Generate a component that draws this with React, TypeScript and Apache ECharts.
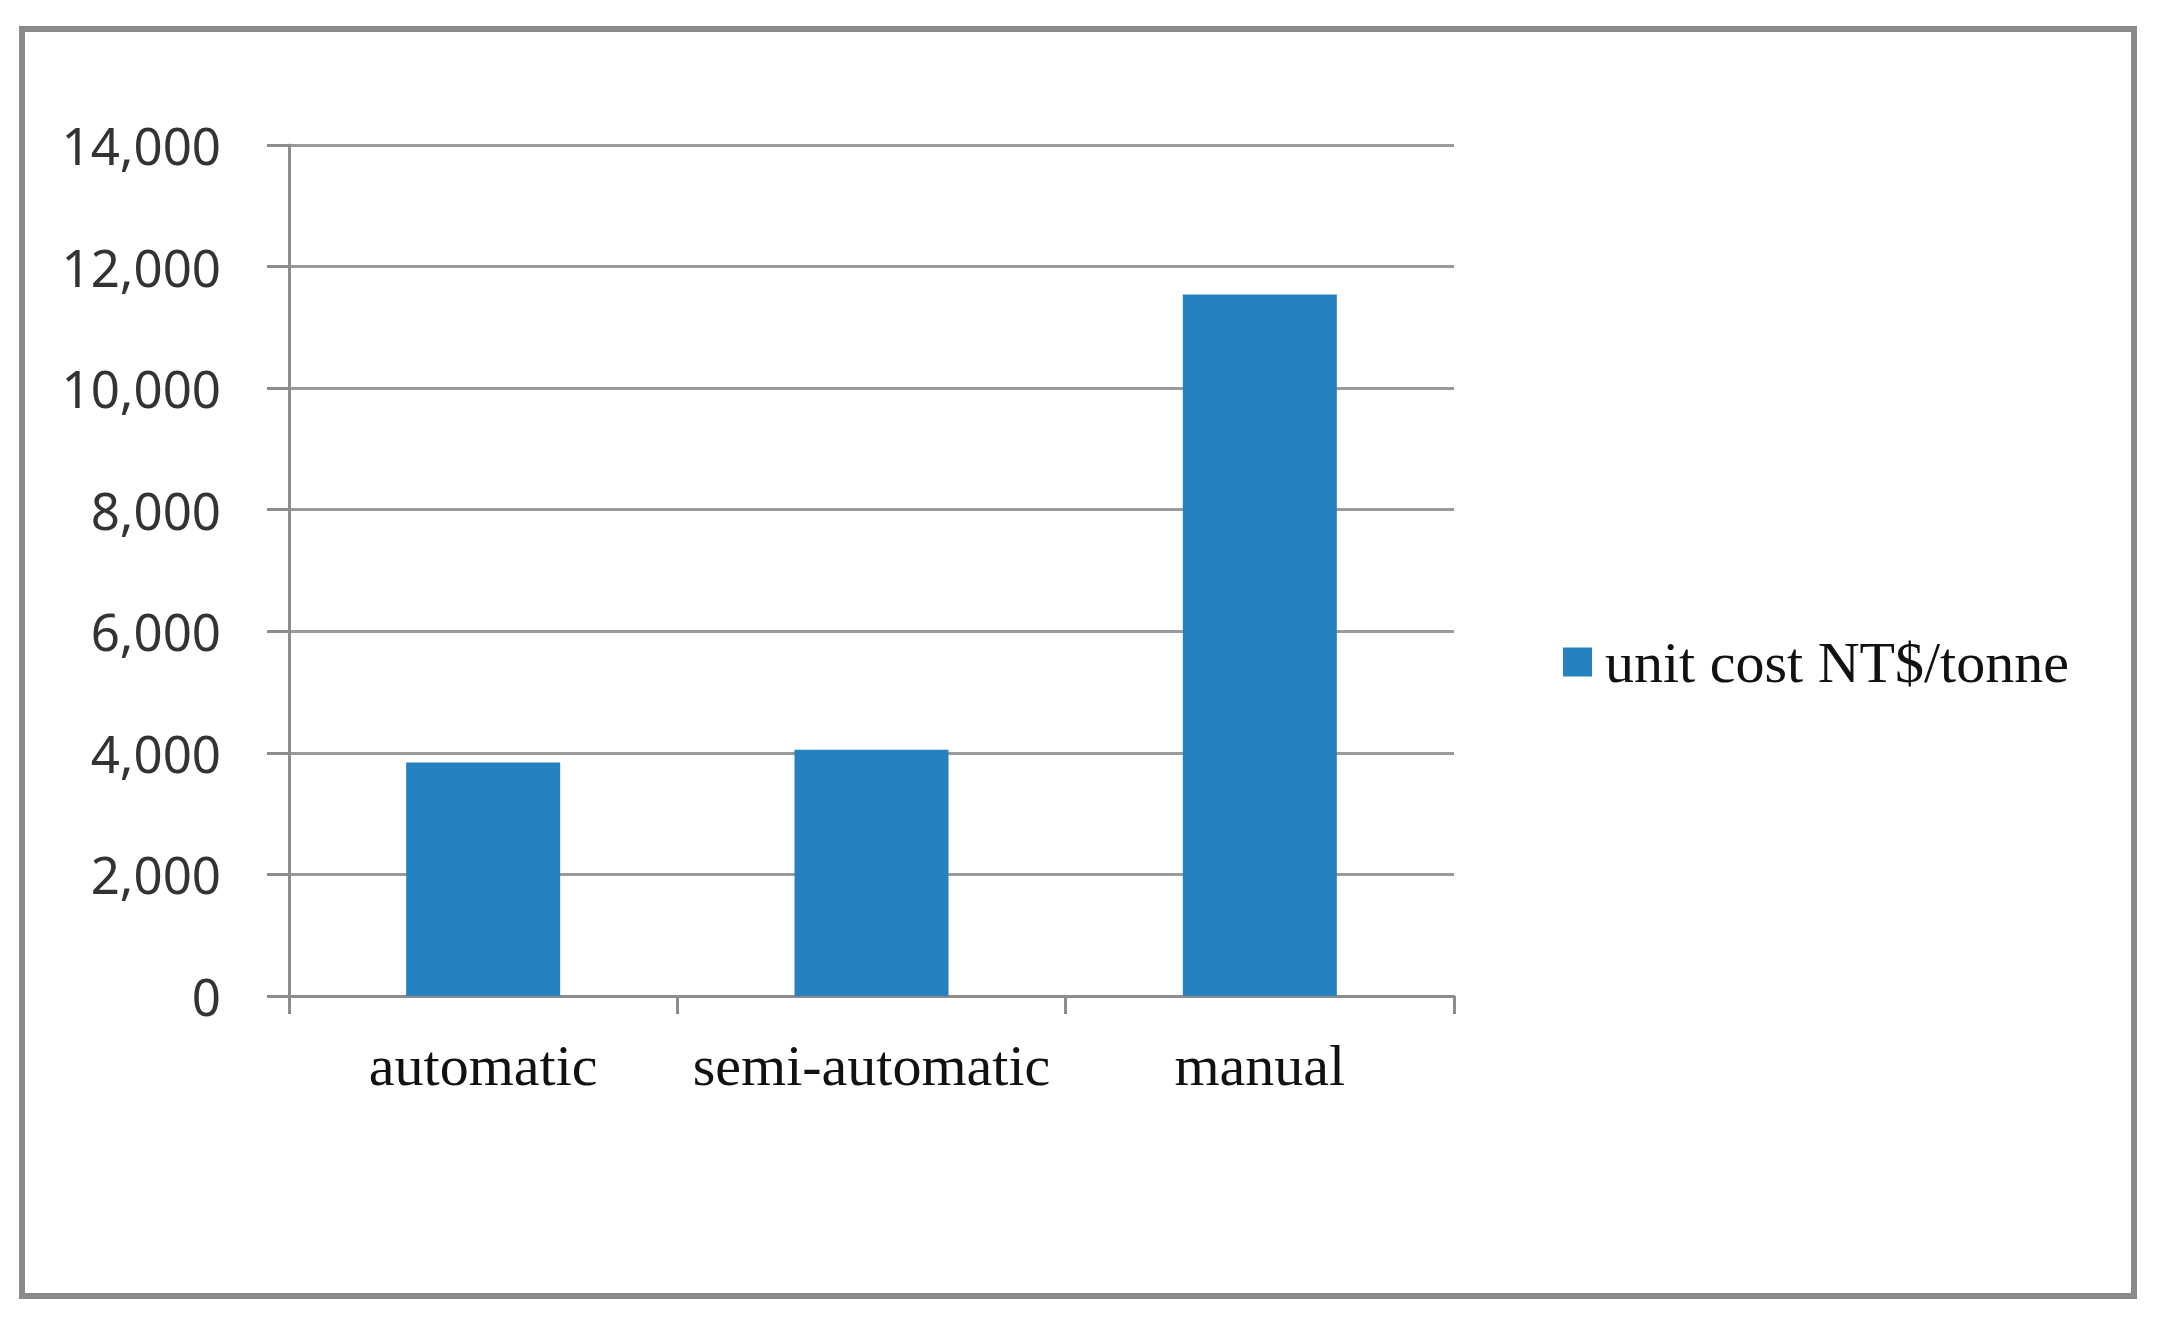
import React, { useEffect, useRef } from "react";
import * as echarts from "echarts";

const categories = ["automatic", "semi-automatic", "manual"];
const unitCost = [3840, 4050, 11540];
const seriesName = "unit cost NT$/tonne";
const yTicks = { min: 0, max: 14000, interval: 2000 };

export default function App() {
  const ref = useRef<HTMLDivElement>(null);
  useEffect(() => {
    if (!ref.current) return;
    const chart = echarts.init(ref.current, null, { renderer: "svg" });
    chart.setOption({
      animation: false,
      backgroundColor: "#ffffff",
      graphic: [
        {
          type: "rect",
          shape: { x: 22, y: 29, width: 2112, height: 1267 },
          style: { fill: "none", stroke: "#8a8a8a", lineWidth: 6 },
          silent: true,
        },
      ],
      grid: { left: 289, right: 703, top: 145, bottom: 321, containLabel: false },
      legend: {
        orient: "vertical",
        left: 1558,
        top: 628,
        icon: "rect",
        itemWidth: 29,
        itemHeight: 29,
        textStyle: {
          fontFamily: "Liberation Serif",
          fontSize: 58,
          color: "#111111",
          padding: [0, 0, 0, 8],
        },
        data: [seriesName],
      },
      xAxis: {
        type: "category",
        data: categories,
        axisLine: { show: true, lineStyle: { color: "#8c8c8c", width: 3 } },
        axisTick: { show: true, interval: 0, length: 18, lineStyle: { color: "#8c8c8c", width: 3 } },
        axisLabel: {
          interval: 0,
          fontFamily: "Liberation Serif",
          fontSize: 58,
          color: "#111111",
          margin: 40,
        },
      },
      yAxis: {
        type: "value",
        min: yTicks.min,
        max: yTicks.max,
        interval: yTicks.interval,
        axisLine: { show: true, lineStyle: { color: "#8c8c8c", width: 3 } },
        axisTick: { show: true, length: 22, lineStyle: { color: "#8c8c8c", width: 3 } },
        splitLine: { show: true, lineStyle: { color: "#9a9a9a", width: 3 } },
        axisLabel: {
          fontFamily: "Noto Sans",
          fontSize: 51,
          color: "#333333",
          margin: 68,
          formatter: (v: number) => v.toLocaleString("en-US"),
        },
      },
      series: [
        {
          name: seriesName,
          type: "bar",
          data: unitCost,
          barWidth: 154,
          itemStyle: { color: "#2581c0" },
        },
      ],
    });
    return () => chart.dispose();
  }, []);
  return (
    <div
      ref={ref}
      style={{ position: "fixed", left: 0, top: 0, width: 2157, height: 1317 }}
    />
  );
}
